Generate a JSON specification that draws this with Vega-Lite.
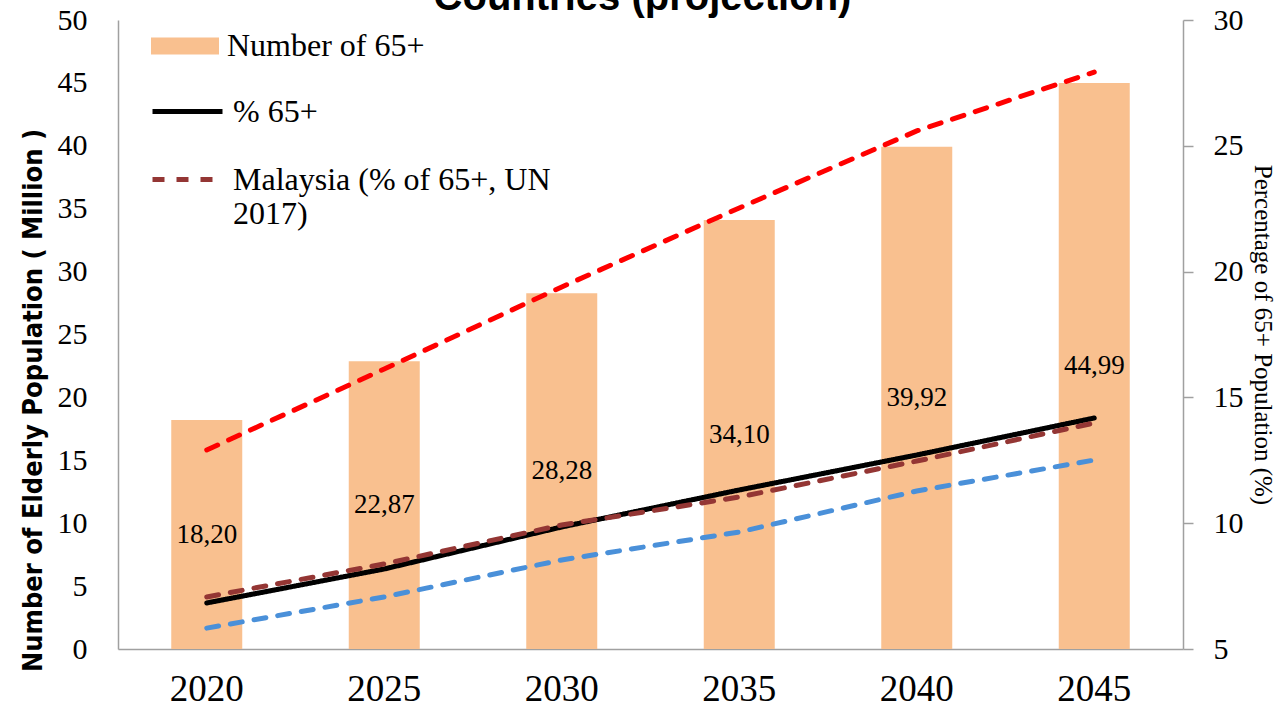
{
  "$schema": "https://vega.github.io/schema/vega-lite/v6.json",
  "width": 1065,
  "height": 629,
  "autosize": {"type": "none"},
  "padding": {"left": 118, "top": 20, "right": 93, "bottom": 63},
  "background": "white",
  "title": {
    "text": "Countries (projection)",
    "font": "Liberation Sans",
    "fontSize": 40,
    "fontWeight": "bold",
    "color": "black",
    "anchor": "middle",
    "baseline": "alphabetic",
    "offset": 0,
    "dx": -8,
    "dy": 45
  },
  "config": {
    "view": {"stroke": null},
    "axis": {"grid": false, "domainColor": "#A0A0A0", "domainWidth": 1.5, "labelColor": "black", "titleColor": "black"},
    "legend": {"labelColor": "black", "labelLimit": 500}
  },
  "datasets": {
    "bars": [
      {"year": "2020", "count": 18.20, "label": "18,20"},
      {"year": "2025", "count": 22.87, "label": "22,87"},
      {"year": "2030", "count": 28.28, "label": "28,28"},
      {"year": "2035", "count": 34.10, "label": "34,10"},
      {"year": "2040", "count": 39.92, "label": "39,92"},
      {"year": "2045", "count": 44.99, "label": "44,99"}
    ],
    "lines": [
      {"year": "2020", "series": "% 65+", "pct": 6.83},
      {"year": "2025", "series": "% 65+", "pct": 8.18},
      {"year": "2030", "series": "% 65+", "pct": 9.85},
      {"year": "2035", "series": "% 65+", "pct": 11.32},
      {"year": "2040", "series": "% 65+", "pct": 12.71},
      {"year": "2045", "series": "% 65+", "pct": 14.18},
      {"year": "2020", "series": "Malaysia (% of 65+, UN 2017)", "pct": 7.07},
      {"year": "2025", "series": "Malaysia (% of 65+, UN 2017)", "pct": 8.38},
      {"year": "2030", "series": "Malaysia (% of 65+, UN 2017)", "pct": 9.93},
      {"year": "2035", "series": "Malaysia (% of 65+, UN 2017)", "pct": 11.04},
      {"year": "2040", "series": "Malaysia (% of 65+, UN 2017)", "pct": 12.47},
      {"year": "2045", "series": "Malaysia (% of 65+, UN 2017)", "pct": 13.98},
      {"year": "2020", "series": "Series 3", "pct": 12.91},
      {"year": "2025", "series": "Series 3", "pct": 16.13},
      {"year": "2030", "series": "Series 3", "pct": 19.39},
      {"year": "2035", "series": "Series 3", "pct": 22.53},
      {"year": "2040", "series": "Series 3", "pct": 25.59},
      {"year": "2045", "series": "Series 3", "pct": 27.93},
      {"year": "2020", "series": "Series 4", "pct": 5.83},
      {"year": "2025", "series": "Series 4", "pct": 7.07},
      {"year": "2030", "series": "Series 4", "pct": 8.54},
      {"year": "2035", "series": "Series 4", "pct": 9.65},
      {"year": "2040", "series": "Series 4", "pct": 11.28},
      {"year": "2045", "series": "Series 4", "pct": 12.51}
    ]
  },
  "layer": [
    {
      "data": {"name": "bars"},
      "mark": {"type": "bar"},
      "encoding": {
        "x": {
          "field": "year", "type": "ordinal",
          "scale": {"paddingInner": 0.6, "paddingOuter": 0.3},
          "axis": {"title": null, "labelAngle": 0, "ticks": false, "labelFont": "Liberation Serif", "labelFontSize": 37, "labelPadding": 22}
        },
        "y": {
          "field": "count", "type": "quantitative",
          "scale": {"domain": [0, 50], "nice": false},
          "axis": {
            "orient": "left", "values": [0, 5, 10, 15, 20, 25, 30, 35, 40, 45, 50], "ticks": false,
            "labelFont": "Liberation Serif", "labelFontSize": 30, "labelPadding": 31,
            "title": "Number of Elderly Population ( Million )",
            "titleFont": "Liberation Sans Narrow, DejaVu Sans Condensed, Liberation Sans", "titleFontSize": 27, "titleFontWeight": "bold", "titlePadding": 10,
            "titleY": 380
          }
        },
        "fill": {
          "datum": "Number of 65+",
          "scale": {"range": ["#F9C08F"]},
          "legend": {
            "orient": "none", "legendX": 33, "legendY": -8, "title": null, "padding": 0,
            "symbolType": "M-1,-0.25H1V0.25H-1Z", "symbolSize": 4624, "symbolStrokeWidth": 0,
            "labelFont": "Liberation Serif", "labelFontSize": 32, "labelOffset": 8
          }
        }
      }
    },
    {
      "data": {"name": "bars"},
      "mark": {"type": "text", "baseline": "middle", "font": "Liberation Serif", "fontSize": 27, "color": "black"},
      "encoding": {
        "x": {"field": "year", "type": "ordinal"},
        "y": {"field": "count", "type": "quantitative", "scale": {"domain": [0, 100], "nice": false}, "axis": null},
        "text": {"field": "label"}
      }
    },
    {
      "data": {"name": "lines"},
      "mark": {"type": "line", "strokeWidth": 5, "strokeCap": "round"},
      "encoding": {
        "x": {"field": "year", "type": "ordinal"},
        "y": {
          "field": "pct", "type": "quantitative",
          "scale": {"domain": [5, 30], "nice": false},
          "axis": {
            "orient": "right", "values": [5, 10, 15, 20, 25, 30], "ticks": true, "tickSize": 10, "tickColor": "#A0A0A0", "tickWidth": 1.5,
            "labelFont": "Liberation Serif", "labelFontSize": 30, "labelPadding": 20,
            "title": "Percentage of 65+ Population (%)",
            "titleFont": "Liberation Serif", "titleFontSize": 25, "titleFontWeight": "normal", "titlePadding": 6
          }
        },
        "color": {
          "field": "series", "type": "nominal",
          "scale": {
            "domain": ["% 65+", "Malaysia (% of 65+, UN 2017)", "Series 3", "Series 4"],
            "range": ["#000000", "#943634", "#FF0000", "#4A90D9"]
          },
          "legend": {
            "orient": "none", "legendX": 32, "legendY": 54, "title": null, "padding": 0,
            "values": ["% 65+", "Malaysia (% of 65+, UN 2017)"],
            "symbolType": "stroke", "symbolSize": 4900, "symbolStrokeWidth": 5,
            "labelFont": "Liberation Serif", "labelFontSize": 32, "labelOffset": 8, "rowPadding": 14,
            "labelExpr": "datum.value == 'Malaysia (% of 65+, UN 2017)' ? ['Malaysia (% of 65+, UN', '2017)'] : datum.label"
          }
        },
        "strokeDash": {
          "field": "series", "type": "nominal",
          "scale": {
            "domain": ["% 65+", "Malaysia (% of 65+, UN 2017)", "Series 3", "Series 4"],
            "range": [[1, 0], [12, 12], [12, 12], [12, 12]]
          },
          "legend": {
            "orient": "none", "legendX": 32, "legendY": 54, "title": null, "padding": 0,
            "values": ["% 65+", "Malaysia (% of 65+, UN 2017)"],
            "symbolType": "stroke", "symbolSize": 4900, "symbolStrokeWidth": 5,
            "labelFont": "Liberation Serif", "labelFontSize": 32, "labelOffset": 8, "rowPadding": 14,
            "labelExpr": "datum.value == 'Malaysia (% of 65+, UN 2017)' ? ['Malaysia (% of 65+, UN', '2017)'] : datum.label"
          }
        }
      }
    }
  ],
  "resolve": {"scale": {"y": "independent"}}
}
